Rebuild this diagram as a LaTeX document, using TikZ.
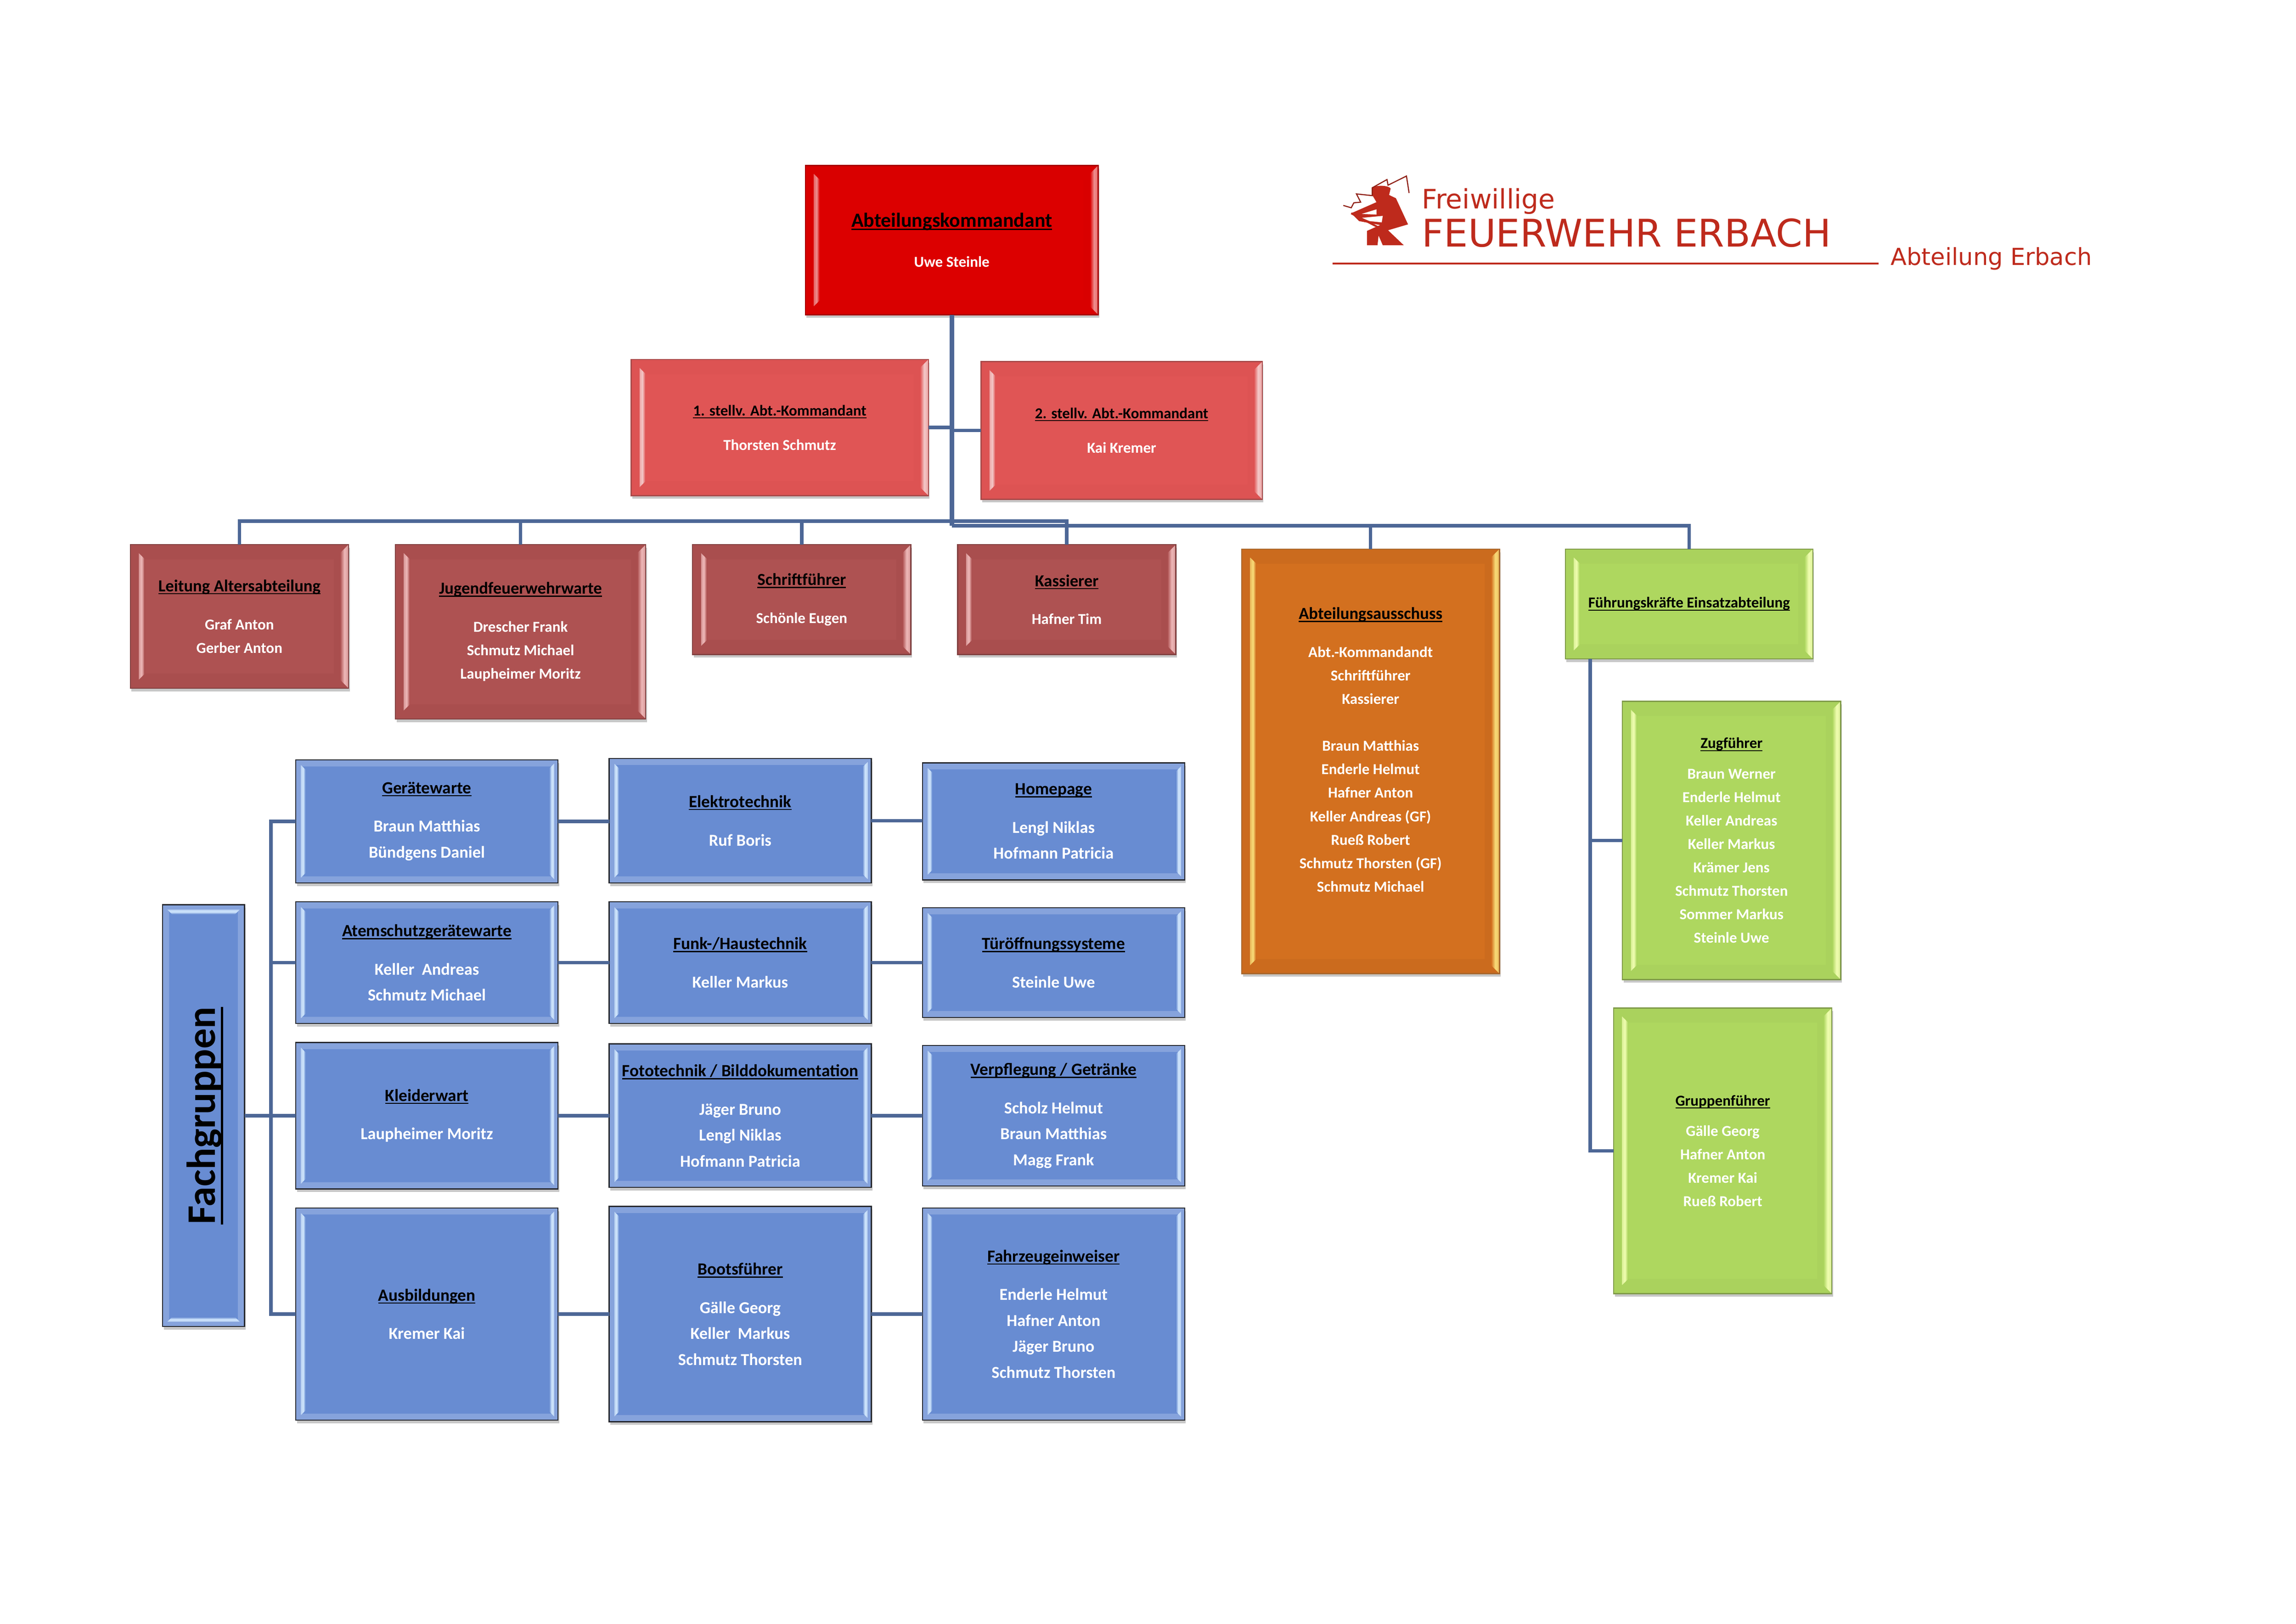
\documentclass[tikz,border=0pt]{standalone}
\usepackage{fontspec}
\usetikzlibrary{shadows}
\setmainfont{Carlito}
\newfontfamily\logofont{DejaVu Sans}
\definecolor{linkblue}{HTML}{4D6796}
\definecolor{logored}{HTML}{BE2A1C}
\newsavebox{\hdbox}
\newcommand{\hdthick}{.8pt}
\newcommand{\hd}[2][2pt]{{\color{black}\sbox{\hdbox}{#2}\leavevmode\rlap{\rule[-#1]{\wd\hdbox}{\hdthick}}\usebox{\hdbox}}}
\newcommand{\hdr}[1]{\hd{\fontsize{12.2}{17}\selectfont #1}}
\newcommand{\hdb}[1]{\hd{\fontsize{12.4}{17}\selectfont #1}}
\newcommand{\bevelcorners}[1]{%
  \path (path picture bounding box.south west) coordinate (bvsw)
        (path picture bounding box.north east) coordinate (bvne)
        (bvsw |- bvne) coordinate (bvnw)
        (bvsw -| bvne) coordinate (bvse);
  \fill[bvband,even odd rule] (bvsw) rectangle (bvne)
        ([shift={(#1,-#1)}]bvsw) rectangle ([shift={(-#1,#1)}]bvne);
}
\newcommand{\bevelpaint}[5]{%
  \bevelcorners{#1}
  \shade[left color=bvlight!70!bvband,right color=bvfill,middle color=bvlight]
        ([shift={(#2,-#2)}]bvsw) -- ([shift={(#3,-#3)}]bvsw)
        -- ([shift={(#3,#3)}]bvnw) -- ([shift={(#2,#2)}]bvnw) -- cycle;
  \shade[left color=bvfill,right color=bvlight!70!bvband,middle color=bvlight]
        ([shift={(-#4,-#4)}]bvse) -- ([shift={(-#5,-#5)}]bvse)
        -- ([shift={(-#5,#5)}]bvne) -- ([shift={(-#4,#4)}]bvne) -- cycle;
}
\newcommand{\bevelpainttop}[3]{%
  \bevelcorners{#1}
  \shade[top color=bvlight!70!bvband,bottom color=bvfill,middle color=bvlight]
        ([shift={(#2,#2)}]bvnw) -- ([shift={(#3,#3)}]bvnw)
        -- ([shift={(-#3,#3)}]bvne) -- ([shift={(-#2,#2)}]bvne) -- cycle;
  \shade[top color=bvfill,bottom color=bvlight!70!bvband,middle color=bvlight]
        ([shift={(#2,-#2)}]bvsw) -- ([shift={(#3,-#3)}]bvsw)
        -- ([shift={(-#3,-#3)}]bvse) -- ([shift={(-#2,-#2)}]bvse) -- cycle;
}
\tikzset{
  boxsize/.style 2 args={minimum width=#1*0.3728mm,minimum height=#2*0.3728mm},
  orgbox/.style n args={4}{rectangle,fill=#1,draw=#2,line width=.8pt,outer sep=0pt,
    inner sep=0pt,align=center,text=white,
    /utils/exec={\colorlet{bvfill}{#1}\colorlet{bvband}{#3}\colorlet{bvlight}{#4}},
    drop shadow={shadow xshift=.3mm,shadow yshift=-.8mm,opacity=.22,fill=black}},
  softbevel/.style={path picture={\bevelpaint{10}{5.8}{9.7}{0}{5.6}}},
  slimbevel/.style={path picture={\bevelpaint{4.5}{3.6}{6.7}{2.5}{6}}},
  smalltext/.style={font=\fontsize{11}{17}\selectfont\bfseries},
  bluetext/.style={font=\fontsize{12.1}{18.8}\selectfont\bfseries},
  kdtbox/.style={orgbox={kdtfill}{kdtline}{kdtband}{kdtlight},softbevel,smalltext},
  stvbox/.style={orgbox={stvfill}{stvline}{stvband}{stvlight},softbevel,smalltext},
  redbox/.style={orgbox={redfill}{redline}{redband}{redlight},softbevel,smalltext},
  orangebox/.style={orgbox={orafill}{oraline}{oraband}{oralight},softbevel,smalltext},
  greenbox/.style={orgbox={grnfill}{grnline}{grnband}{grnlight},softbevel,smalltext},
  bluebox/.style={orgbox={blufill}{bluline}{bluband}{blulight},slimbevel,bluetext},
  bluebar/.style={orgbox={blufill}{bluline}{bluband}{blulight},
    path picture={\bevelpainttop{4.5}{3.3}{6.5}}},
  link/.style={draw=linkblue,line width=2.5pt},
  trunk/.style={draw=linkblue,line width=3.2pt},
  logotext/.style={inner sep=0pt,anchor=base west,text=logored}
}
\definecolor{kdtfill}{HTML}{DC0000}\definecolor{kdtline}{HTML}{A80000}
\definecolor{kdtband}{HTML}{D90000}\definecolor{kdtlight}{HTML}{EE9090}
\definecolor{stvfill}{HTML}{E05555}\definecolor{stvline}{HTML}{A94A4A}
\definecolor{stvband}{HTML}{DD5353}\definecolor{stvlight}{HTML}{F3C8C8}
\definecolor{redfill}{HTML}{AE5252}\definecolor{redline}{HTML}{824040}
\definecolor{redband}{HTML}{A94E4E}\definecolor{redlight}{HTML}{EDB8B8}
\definecolor{orafill}{HTML}{D3701F}\definecolor{oraline}{HTML}{A8672C}
\definecolor{oraband}{HTML}{CB6B1E}\definecolor{oralight}{HTML}{F8DC78}
\definecolor{grnfill}{HTML}{AED75F}\definecolor{grnline}{HTML}{7F9A48}
\definecolor{grnband}{HTML}{AAD25D}\definecolor{grnlight}{HTML}{F0FDB0}
\definecolor{blufill}{HTML}{688CD2}\definecolor{bluline}{HTML}{26282E}
\definecolor{bluband}{HTML}{86A3DC}\definecolor{blulight}{HTML}{D0E6FC}
\begin{document}
\begin{tikzpicture}[x=0.03728cm,y=-0.03728cm]
\useasboundingbox (0,0) rectangle (1568,1109);
\node (kdt) at (650,164) [kdtbox,boxsize={200}{102}]
  {\hd{\fontsize{14.6}{17}\selectfont Abteilungskommandant}\\[12pt]Uwe Steinle};
\node (stv1) at (532.5,292) [stvbox,boxsize={203}{93}]
  {\hd{1. stellv. Abt.-Kommandant}\\[8pt]Thorsten Schmutz};
\node (stv2) at (766,294) [stvbox,boxsize={192}{94}]
  {\hd{2. stellv. Abt.-Kommandant}\\[8pt]Kai Kremer};
\node (alt) at (163.5,421) [redbox,boxsize={149}{98}]
  {\hdr{Leitung Altersabteilung}\\[10.5pt]Graf Anton\\Gerber Anton};
\node (jug) at (355.5,431.5) [redbox,boxsize={171}{119}]
  {\hdr{Jugendfeuerwehrwarte}\\[10.5pt]Drescher Frank\\Schmutz Michael\\Laupheimer Moritz};
\node (sch) at (547.5,409.5) [redbox,boxsize={149}{75}]
  {\hdr{Schriftführer}\\[10.5pt]Schönle Eugen};
\node (kas) at (728.5,409.5) [redbox,boxsize={149}{75}]
  {\hdr{Kassierer}\\[10.5pt]Hafner Tim};
\node (aus) at (936,520) [orangebox,boxsize={176}{290}]
  {\hdr{Abteilungsausschuss}\\[10.5pt]Abt.-Kommandandt\\Schriftführer\\Kassierer\\~\\Braun Matthias\\Enderle Helmut\\Hafner Anton\\Keller Andreas (GF)\\Rueß Robert\\Schmutz Thorsten (GF)\\Schmutz Michael\\~};
\node (fuk) at (1153.5,412.5) [greenbox,boxsize={169}{75}]
  {\hd{Führungskräfte Einsatzabteilung}};
\node (zug) at (1182.5,574) [greenbox,boxsize={149}{190}]
  {\hd{Zugführer}\\[5pt]Braun Werner\\Enderle Helmut\\Keller Andreas\\Keller Markus\\Krämer Jens\\Schmutz Thorsten\\Sommer Markus\\Steinle Uwe};
\node (grp) at (1176.5,786) [greenbox,boxsize={149}{195}]
  {\hd{Gruppenführer}\\[5pt]Gälle Georg\\Hafner Anton\\Kremer Kai\\Rueß Robert};
\node (fach) at (139,762) [bluebar,boxsize={56}{288}]
  {\hspace*{2pt}\rotatebox{90}{\renewcommand{\hdthick}{1.9pt}\hd[6pt]{\fontsize{29.4}{32}\selectfont\bfseries Fachgruppen}}};
\node (ger) at (291.5,561) [bluebox,boxsize={179}{84}]
  {\hdb{Gerätewarte}\\[9pt]Braun Matthias\\Bündgens Daniel};
\node (ate) at (291.5,657.5) [bluebox,boxsize={179}{83}]
  {\hdb{Atemschutzgerätewarte}\\[9pt]Keller\ \ Andreas\\Schmutz Michael};
\node (kle) at (291.5,762) [bluebox,boxsize={179}{100}]
  {\hdb{Kleiderwart}\\[9pt]Laupheimer Moritz};
\node (abi) at (291.5,897.5) [bluebox,boxsize={179}{145}]
  {\hdb{Ausbildungen}\\[9pt]Kremer Kai};
\node (ele) at (505.5,560.5) [bluebox,boxsize={179}{85}]
  {\hdb{Elektrotechnik}\\[9pt]Ruf Boris};
\node (fun) at (505.5,657.5) [bluebox,boxsize={179}{83}]
  {\hdb{Funk-/Haustechnik}\\[9pt]Keller Markus};
\node (fot) at (505.5,762) [bluebox,boxsize={179}{98}]
  {\hdb{Fototechnik / Bilddokumentation}\\[9pt]Jäger Bruno\\Lengl Niklas\\Hofmann Patricia};
\node (boo) at (505.5,897.5) [bluebox,boxsize={179}{147}]
  {\hdb{Bootsführer}\\[9pt]Gälle Georg\\Keller\ \ Markus\\Schmutz Thorsten};
\node (hom) at (719.5,561) [bluebox,boxsize={179}{80}]
  {\hdb{Homepage}\\[9pt]Lengl Niklas\\Hofmann Patricia};
\node (tur) at (719.5,657.5) [bluebox,boxsize={179}{75}]
  {\hdb{Türöffnungssysteme}\\[9pt]Steinle Uwe};
\node (ver) at (719.5,762) [bluebox,boxsize={179}{96}]
  {\hdb{Verpflegung / Getränke}\\[9pt]Scholz Helmut\\Braun Matthias\\Magg Frank};
\node (fah) at (719.5,897.5) [bluebox,boxsize={179}{145}]
  {\hdb{Fahrzeugeinweiser}\\[9pt]Enderle Helmut\\Hafner Anton\\Jäger Bruno\\Schmutz Thorsten};
\coordinate (bus1) at (650,356);
\coordinate (bus2) at (650,359);
\coordinate (fgbus) at (185,762);
\coordinate (fkbus) at (1086,786);
\draw [trunk] (kdt.south) -- (bus2);
\draw [link] (stv1.east) -- (stv1.east -| kdt.south);
\draw [link] (stv2.west) -- (stv2.west -| kdt.south);
\foreach \target in {alt,jug,sch,kas}
  \draw [link] (bus1) -| (\target.north);
\foreach \target in {aus,fuk}
  \draw [link] (bus2) -| (\target.north);
\draw [link] (fkbus |- fuk.south) -- (fkbus) -- (grp.west);
\draw [link] (fkbus |- zug.west) -- (zug.west);
\draw [link] (fach.east) -- (kle.west);
\draw [link] (fgbus) |- (ger.west);
\draw [link] (fgbus) |- (ate.west);
\draw [link] (fgbus) |- (abi.west);
\draw [link] (ger.east) -- (ger.east -| ele.west);
\draw [link] (ele.east) -- (ele.east -| hom.west);
\draw [link] (ate.east) -- (fun.west);
\draw [link] (fun.east) -- (tur.west);
\draw [link] (kle.east) -- (fot.west);
\draw [link] (fot.east) -- (ver.west);
\draw [link] (abi.east) -- (boo.west);
\draw [link] (boo.east) -- (fah.west);
\node (frei) at (971,142.5) [logotext,font=\logofont\fontsize{19.4}{22}\selectfont] {Freiwillige};
\node (feu) at (971,168.5) [logotext,font=\logofont\fontsize{27.6}{30}\selectfont] {FEUERWEHR ERBACH};
\node (abt) at (1291,181) [logotext,font=\logofont\fontsize{17}{20}\selectfont] {Abteilung Erbach};
\coordinate (rulea) at (910,180);
\coordinate (ruleb) at (1283,180);
\draw [logored,line width=1.6pt] (rulea) -- (ruleb);
\begin{scope}[shift={(901.2,107.3)},x=0.01339cm,y=-0.00333cm]
\fill [logored] (100,230) .. controls (110,215) and (130,215) .. (135,240)
  -- (132,290) -- (145,315) -- (168,515) -- (130,560) -- (160,675) -- (120,675)
  -- (112,600) -- (110,675) -- (90,675) -- (90,565) -- (115,520) -- (75,490)
  -- (60,430) -- (108,345) -- (100,290) -- cycle;
\fill [white] (80,435) -- (108,400) -- (108,440) -- cycle;
\fill [white] (80,465) -- (120,450) -- (118,500) -- (95,490) -- cycle;
\draw [logored!75!black,line width=.8pt] (45,370) -- (60,388) -- (65,350) -- (78,345)
  -- (70,282) -- (100,295) -- (100,235) -- (128,172) -- (130,215) -- (165,145) -- (170,275);
\draw [logored,line width=1.4pt] (60,430) -- (115,545);
\end{scope}
\end{tikzpicture}
\end{document}
